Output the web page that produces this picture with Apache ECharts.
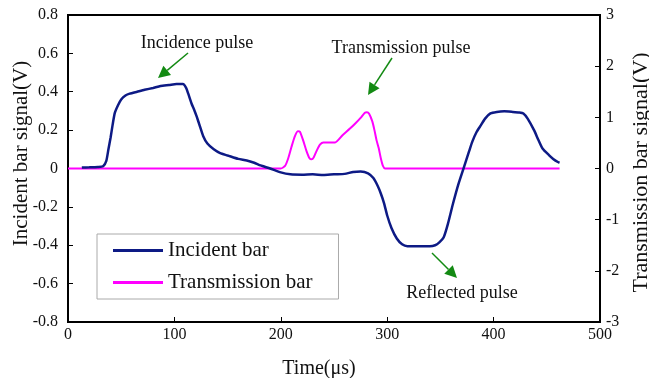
<!DOCTYPE html>
<html><head><meta charset="utf-8">
<script src="https://cdn.jsdelivr.net/npm/echarts@6/dist/echarts.min.js"></script>
<style>html,body{margin:0;padding:0;background:#fff}#c{width:649px;height:378px}</style>
</head><body><div id="c"></div>
<script>
// ---- data ----
const xTicks = [0, 100, 200, 300, 400, 500];
const incidentTime = [13,20,28,33,36,38,40,42,44,47,50,54,58,65,72,80,87,95,102,108,111,113,116,119,121,124,127,131,137,143,150,160,168,175,181,190,200,209,220,230,240,250,260,268,275,282,287,291,294,297,300,304,309,314,319,330,340,345,349,353,357,362,367,372,377,380,384,388,392,397,403,410,418,424,428,432,438,442,446,452,456,460,462];
const incidentValue = [0.005,0.006,0.008,0.012,0.04,0.1,0.16,0.23,0.29,0.33,0.36,0.38,0.39,0.40,0.41,0.42,0.43,0.435,0.44,0.44,0.42,0.39,0.34,0.30,0.27,0.22,0.17,0.13,0.10,0.08,0.068,0.05,0.042,0.03,0.016,0.0,-0.02,-0.03,-0.032,-0.03,-0.034,-0.03,-0.028,-0.018,-0.016,-0.025,-0.05,-0.09,-0.13,-0.18,-0.245,-0.31,-0.365,-0.395,-0.405,-0.405,-0.405,-0.40,-0.385,-0.36,-0.29,-0.18,-0.08,0.005,0.09,0.14,0.19,0.225,0.26,0.287,0.295,0.298,0.295,0.292,0.287,0.26,0.2,0.15,0.104,0.07,0.05,0.035,0.03];
const transTime = [0,200,204,207,210,213,216,218,221,224,227,229,231,234,237,240,251,258,265,270,275,279,281,283,286,288,290,292,294,296,298,462];
const transValue = [0,0,0.05,0.2,0.42,0.62,0.73,0.72,0.55,0.35,0.2,0.18,0.22,0.36,0.47,0.51,0.51,0.65,0.78,0.88,0.99,1.09,1.1,1.07,0.92,0.75,0.55,0.4,0.2,0.05,0,0];
const seriesNames = ['Incident bar', 'Transmission bar'];
const annotations = ['Incidence pulse', 'Transmission pulse', 'Reflected pulse'];

const FONT = 'Liberation Serif';
const GREEN = '#138a13';
function arrow(x1, y1, x2, y2) {
  const dx = x2 - x1, dy = y2 - y1, L = Math.hypot(dx, dy);
  const ux = dx / L, uy = dy / L, hl = 12, hw = 6;
  const bx = x2 - ux * hl, by = y2 - uy * hl;
  return {
    type: 'group', children: [
      { type: 'line', shape: { x1: x1, y1: y1, x2: bx, y2: by }, style: { stroke: GREEN, lineWidth: 1.5 } },
      { type: 'polygon', shape: { points: [[x2, y2], [bx - uy * hw, by + ux * hw], [bx + uy * hw, by - ux * hw]] }, style: { fill: GREEN } }
    ]
  };
}
function label(text, x, y) {
  return { type: 'text', x: x, y: y, style: { text: text, font: '18px "' + FONT + '"', fill: '#111', align: 'center', verticalAlign: 'middle' } };
}

const chart = echarts.init(document.getElementById('c'), null, { renderer: 'canvas' });
const axisLine = { show: true, onZero: false, lineStyle: { color: '#000', width: 2 } };
const tickStyle = { show: true, inside: true, length: 5, lineStyle: { color: '#000', width: 1 } };
chart.setOption({
  animation: false,
  textStyle: { fontFamily: FONT },
  grid: { left: 68, right: 49, top: 15, bottom: 56, outerBoundsMode: 'none', containLabel: false, show: true, borderColor: '#000', borderWidth: 2 },
  xAxis: {
    type: 'value', min: xTicks[0], max: xTicks[xTicks.length - 1], interval: 100,
    name: 'Time(μs)', nameLocation: 'middle', nameGap: 37, nameMoveOverlap: false,
    nameTextStyle: { fontFamily: FONT, fontSize: 20, color: '#111', padding: [0, 30, 0, 0] },
    axisLine: axisLine, axisTick: tickStyle, splitLine: { show: false },
    axisLabel: { fontFamily: FONT, fontSize: 16, color: '#111', margin: 5 }
  },
  yAxis: [{
    type: 'value', min: -0.8, max: 0.8, interval: 0.2, position: 'left',
    name: 'Incident bar signal(V)', nameLocation: 'middle', nameGap: 36, nameMoveOverlap: false,
    nameTextStyle: { fontFamily: FONT, fontSize: 21, color: '#111', padding: [0, 0, 0, 30] },
    axisLine: axisLine, axisTick: tickStyle, splitLine: { show: false },
    axisLabel: { fontFamily: FONT, fontSize: 16, color: '#111', margin: 10, formatter: v => String(Math.round(v * 10) / 10) }
  }, {
    type: 'value', min: -3, max: 3, interval: 1, position: 'right',
    name: 'Transmission bar signal(V)', nameLocation: 'middle', nameGap: 30, nameMoveOverlap: false,
    nameTextStyle: { fontFamily: FONT, fontSize: 22, color: '#111', padding: [0, 8, 0, 0] },
    axisLine: axisLine, axisTick: tickStyle, splitLine: { show: false },
    axisLabel: { fontFamily: FONT, fontSize: 16, color: '#111', margin: 6 }
  }],
  legend: {
    orient: 'vertical', left: 97, top: 234,
    padding: [6, 26, 6, 16], itemGap: 11, itemWidth: 50, itemHeight: 3,
    borderColor: '#aaa', borderWidth: 1, backgroundColor: '#fff',
    textStyle: { fontFamily: FONT, fontSize: 21, color: '#111' },
    data: seriesNames.map(n => ({ name: n, icon: 'rect' }))
  },
  series: [{
    name: seriesNames[0], type: 'line', yAxisIndex: 0, showSymbol: false, smooth: 0.2,
    lineStyle: { color: '#0d1a85', width: 2.5 }, itemStyle: { color: '#0d1a85' },
    data: incidentTime.map((t, i) => [t, incidentValue[i]]), z: 3
  }, {
    name: seriesNames[1], type: 'line', yAxisIndex: 1, showSymbol: false, smooth: 0.2,
    lineStyle: { color: '#ff00ff', width: 2 }, itemStyle: { color: '#ff00ff' },
    data: transTime.map((t, i) => [t, transValue[i]]), z: 2
  }],
  graphic: [
    label(annotations[0], 197, 43),
    arrow(188, 53, 158, 78),
    label(annotations[1], 401, 48),
    arrow(392, 58, 368, 95),
    label(annotations[2], 462, 293),
    arrow(432, 253, 457, 278)
  ]
});
</script></body></html>
